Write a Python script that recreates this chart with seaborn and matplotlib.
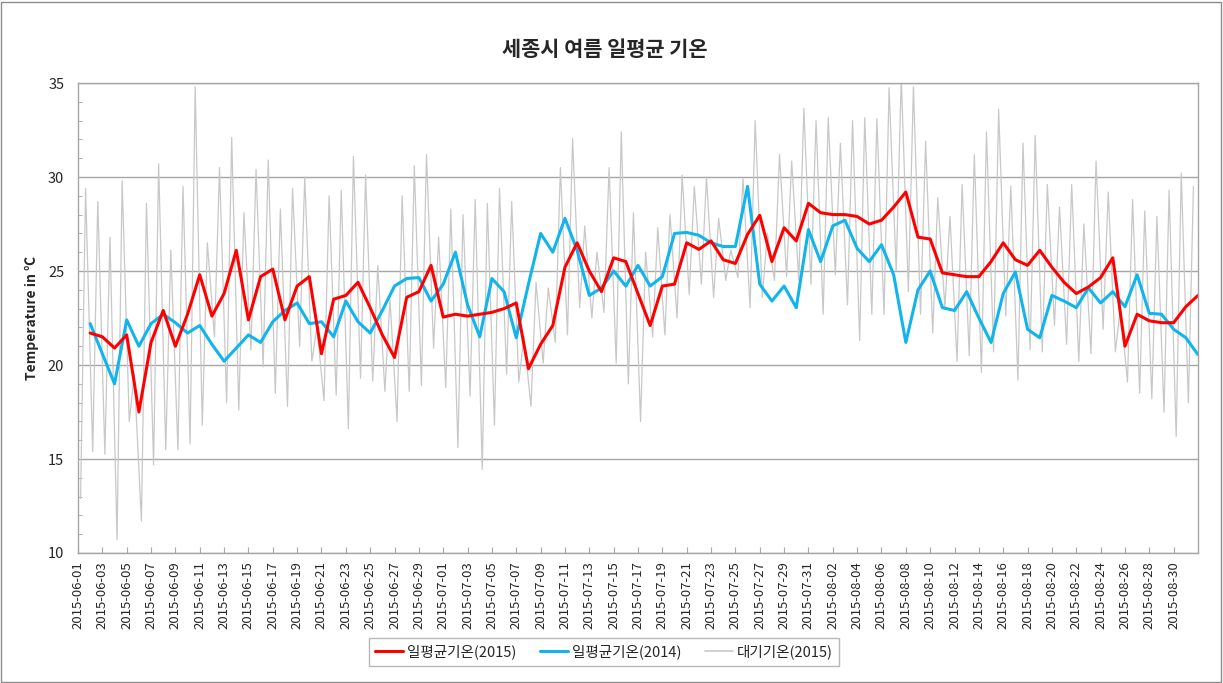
import matplotlib.pyplot as plt
import matplotlib.ticker as ticker
from matplotlib.lines import Line2D
from matplotlib.patches import Rectangle
import pandas as pd
import seaborn as sns

sns.set_style('white')
plt.rcParams['font.family'] = ['Noto Sans CJK KR', 'DejaVu Sans']

# daily averages, 2015-06-01 .. 2015-08-31 (92 days)
avg_2015 = [21.7, 21.5, 20.9, 21.6, 17.5, 21.2, 22.9, 21.0, 22.7, 24.8,
            22.6, 23.8, 26.1, 22.4, 24.7, 25.1, 22.4, 24.2, 24.7, 20.6,
            23.5, 23.7, 24.4, 23.05, 21.6, 20.4, 23.6, 23.9, 25.3, 22.55,
            22.7, 22.6, 22.7, 22.8, 23.0, 23.3, 19.8, 21.1, 22.1, 25.2,
            26.5, 25.0, 23.9, 25.7, 25.5, 23.8, 22.1, 24.2, 24.3, 26.5,
            26.15, 26.6, 25.6, 25.4, 26.95, 27.96, 25.5, 27.3, 26.6, 28.6,
            28.1, 28.0, 28.0, 27.9, 27.5, 27.7, 28.4, 29.2, 26.8, 26.7,
            24.9, 24.8, 24.7, 24.7, 25.5, 26.5, 25.6, 25.3, 26.1, 25.2,
            24.4, 23.8, 24.15, 24.65, 25.7, 21.0, 22.7, 22.35, 22.25, 22.25,
            23.1, 23.7]

avg_2014 = [22.2, 20.6, 19.0, 22.4, 21.0, 22.2, 22.7, 22.25, 21.7, 22.1,
            21.1, 20.2, 20.9, 21.6, 21.2, 22.3, 22.9, 23.3, 22.2, 22.3,
            21.5, 23.4, 22.3, 21.7, 22.9, 24.2, 24.6, 24.65, 23.4, 24.3,
            26.0, 23.2, 21.5, 24.6, 23.9, 21.45, 24.3, 27.0, 26.0, 27.8,
            26.1, 23.7, 24.1, 25.0, 24.2, 25.3, 24.2, 24.7, 27.0, 27.05,
            26.9, 26.5, 26.3, 26.3, 29.5, 24.3, 23.4, 24.2, 23.05, 27.2,
            25.5, 27.4, 27.7, 26.2, 25.5, 26.4, 24.8, 21.2, 24.0, 25.0,
            23.05, 22.9, 23.9, 22.5, 21.2, 23.8, 24.95, 21.9, 21.45, 23.7,
            23.4, 23.05, 24.1, 23.3, 23.9, 23.1, 24.8, 22.75, 22.7, 21.9,
            21.45, 20.55]

# air temperature 2015: daily low (early morning) and high (afternoon)
air_low = [12.9, 15.4, 15.25, 10.7, 17.0, 11.7, 14.7, 15.5, 15.5, 15.8,
           16.8, 21.5, 18.0, 17.6, 20.8, 19.9, 18.5, 17.8, 21.0, 20.2,
           18.1, 18.4, 16.6, 19.3, 19.15, 18.6, 17.0, 18.6, 18.9, 20.9,
           18.8, 15.6, 18.35, 14.45, 16.8, 19.5, 19.1, 17.8, 20.1, 21.2,
           21.6, 23.05, 22.5, 22.8, 20.1, 19.0, 17.0, 21.5, 21.6, 22.5,
           23.75, 24.3, 23.6, 24.5, 24.65, 23.05, 23.6, 24.5, 24.7, 24.5,
           24.3, 22.7, 24.8, 23.2, 21.3, 22.7, 22.7, 25.0, 23.9, 22.7,
           21.7, 23.05, 20.2, 20.5, 19.6, 20.7, 22.6, 19.2, 20.8, 20.7,
           22.1, 21.1, 20.2, 20.6, 21.9, 20.7, 19.1, 18.5, 18.2, 17.5,
           16.2, 18.0]

air_high = [29.4, 28.7, 26.8, 29.8, 19.5, 28.6, 30.7, 26.1, 29.5, 34.8,
            26.5, 30.5, 32.1, 28.1, 30.4, 30.9, 28.3, 29.4, 30.0, 22.0,
            29.0, 29.3, 31.1, 30.1, 25.3, 23.5, 29.0, 30.6, 31.2, 26.8,
            28.3, 28.0, 28.8, 28.6, 29.4, 28.7, 21.5, 24.4, 24.1, 30.5,
            32.05, 27.4, 26.0, 30.5, 32.4, 28.1, 26.0, 27.3, 28.0, 30.1,
            29.5, 30.0, 27.8, 26.1, 29.9, 33.0, 27.0, 31.2, 30.85, 33.65,
            33.0, 33.15, 31.8, 33.0, 33.15, 33.1, 34.75, 35.3, 34.8, 31.9,
            28.9, 27.9, 29.6, 31.2, 32.4, 33.6, 29.5, 31.8, 32.2, 29.6,
            28.4, 29.6, 27.5, 30.85, 29.2, 23.0, 28.8, 28.2, 27.9, 29.3,
            30.2, 29.5]

days = pd.date_range('2015-06-01', periods=92, freq='D')

# daily means are drawn at the end of each day
daily = pd.DataFrame({'time': days + pd.Timedelta(days=1),
                      'y2015': avg_2015, 'y2014': avg_2014})

air = pd.concat([
    pd.DataFrame({'time': days + pd.Timedelta(hours=5), 'temp': air_low}),
    pd.DataFrame({'time': days + pd.Timedelta(hours=15), 'temp': air_high}),
]).sort_values('time')

fig = plt.figure(figsize=(12.23, 6.83), dpi=100)
ax = fig.add_axes([78 / 1223, 1 - 553 / 683, 1120 / 1223, 470 / 683])

c_red = '#ff0000'
c_blue = '#12b4ec'
c_gray = '#c8c8c8'

sns.lineplot(data=air, x='time', y='temp', ax=ax, color=c_gray,
             linewidth=0.9, estimator=None, sort=False)
sns.lineplot(data=daily, x='time', y='y2014', ax=ax, color=c_blue,
             linewidth=2.2, estimator=None)
sns.lineplot(data=daily, x='time', y='y2015', ax=ax, color=c_red,
             linewidth=2.2, estimator=None)

ax.set_xlim(pd.Timestamp('2015-06-01'), pd.Timestamp('2015-09-01'))
ax.set_ylim(10, 35)

xt = pd.date_range('2015-06-01', '2015-08-30', freq='2D')
ax.set_xticks(xt)
ax.set_xticklabels([d.strftime('%Y-%m-%d') for d in xt], rotation=90,
                   fontsize=9.5)
ax.set_yticks(range(10, 36, 5))
ax.yaxis.set_minor_locator(ticker.MultipleLocator(1))
ax.tick_params(axis='y', which='major', length=0, labelsize=10.5, pad=10)
ax.tick_params(axis='y', which='minor', direction='in', length=3,
               color='#a6a6a6', left=True)
ax.tick_params(axis='x', which='major', direction='in', length=4,
               color='#a6a6a6', bottom=True, pad=6)

ax.yaxis.grid(True, color='#a6a6a6', linewidth=1)
ax.xaxis.grid(False)
ax.set_axisbelow(True)
for s in ax.spines.values():
    s.set_color('#a6a6a6')
    s.set_linewidth(1)
ax.set_xlabel('')
ax.set_ylabel('')

fig.text(605 / 1223, 1 - 50 / 683, '세종시 여름 일평균 기온', ha='center',
         va='center', fontsize=15, fontweight='bold')
fig.text(32 / 1223, 1 - 318 / 683, 'Temperature in ℃', rotation=90,
         ha='center', va='center', fontsize=10, fontweight='bold')

handles = [Line2D([], [], color=c_red, lw=2.2),
           Line2D([], [], color=c_blue, lw=2.2),
           Line2D([], [], color=c_gray, lw=1.2)]
labels = ['일평균기온(2015)', '일평균기온(2014)', '대기기온(2015)']
fig.legend(handles, labels, loc='center', ncol=3,
           bbox_to_anchor=(604 / 1223, 1 - 652 / 683), frameon=True,
           fancybox=False, edgecolor='#a6a6a6', fontsize=10.5,
           handlelength=1.9, handletextpad=0.3, columnspacing=1.6,
           borderpad=0.45)

fig.patches.append(Rectangle((0.001, 0.002), 0.997, 0.995,
                             transform=fig.transFigure, fill=False,
                             edgecolor='#8c8c8c', linewidth=1))

fig.savefig('out.png', dpi=100)
